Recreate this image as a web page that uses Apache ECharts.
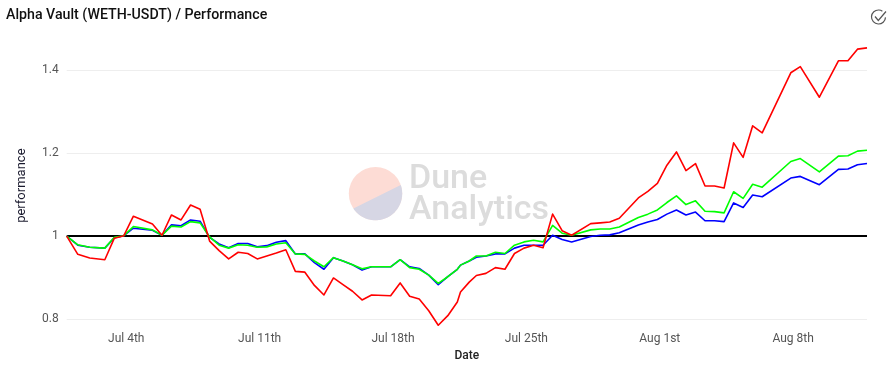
<!DOCTYPE html>
<html><head><meta charset="utf-8">
<style>html,body{margin:0;padding:0;background:#fff}#c{width:896px;height:370px}</style>
<script src="https://cdn.jsdelivr.net/npm/echarts@6/dist/echarts.min.js"></script>
</head><body><div id="c"></div>
<script>
const dates = ['06-30 21','07-01 11','07-02 02','07-02 21','07-03 09','07-03 21','07-04 09','07-05 09','07-05 21','07-06 09','07-06 21','07-07 09','07-07 21','07-08 09','07-08 21','07-09 09','07-09 21','07-10 09','07-10 21','07-11 09','07-11 21','07-12 09','07-12 21','07-13 09','07-13 21','07-14 09','07-14 21','07-15 09','07-15 21','07-16 09','07-16 21','07-17 21','07-18 09','07-18 21','07-19 09','07-19 21','07-20 09','07-20 21','07-21 09','07-21 13','07-22 00','07-22 09','07-22 21','07-23 09','07-23 21','07-24 09','07-24 21','07-25 09','07-25 21','07-26 09','07-26 21','07-27 09','07-28 09','07-28 21','07-29 09','07-29 21','07-30 21','07-31 09','07-31 21','08-01 09','08-01 21','08-02 09','08-02 21','08-03 09','08-03 21','08-04 09','08-04 21','08-05 09','08-05 21','08-06 09','08-07 21','08-08 09','08-09 09','08-10 09','08-10 21','08-11 09','08-11 21'];
const red = [1,.956,.947,.943,.995,1.001,1.048,1.029,1.002,1.051,1.039,1.075,1.065,.988,.965,.945,.961,.958,.945,.952,.959,.967,.915,.913,.881,.858,.899,.883,.867,.846,.858,.856,.887,.855,.848,.820,.785,.808,.841,.865,.889,.905,.910,.924,.920,.958,.971,.978,.972,1.053,1.013,1.002,1.030,1.032,1.034,1.043,1.092,1.108,1.127,1.171,1.203,1.158,1.175,1.121,1.121,1.116,1.225,1.190,1.266,1.249,1.394,1.409,1.335,1.423,1.423,1.451,1.454];
const blue = [1,.978,.973,.971,.996,1.001,1.019,1.014,1.002,1.027,1.025,1.039,1.036,.997,.981,.972,.982,.982,.974,.977,.985,.989,.957,.957,.936,.920,.948,.940,.931,.918,.926,.926,.943,.926,.922,.906,.883,.902,.920,.930,.940,.949,.952,.957,.957,.971,.978,.978,.978,1.002,.992,.986,.999,1.002,1.003,1.008,1.027,1.034,1.040,1.053,1.063,1.051,1.058,1.037,1.037,1.035,1.080,1.069,1.099,1.095,1.140,1.144,1.124,1.161,1.162,1.172,1.175];
const green = [1,.979,.973,.971,.997,1.001,1.023,1.015,1.002,1.024,1.022,1.035,1.032,.998,.978,.971,.979,.978,.973,.974,.981,.984,.957,.956,.940,.926,.948,.940,.931,.921,.926,.926,.943,.924,.920,.906,.886,.902,.920,.930,.940,.952,.952,.961,.958,.978,.986,.990,.986,1.026,1.007,1.002,1.015,1.017,1.017,1.022,1.045,1.053,1.063,1.081,1.097,1.076,1.085,1.060,1.059,1.056,1.107,1.091,1.125,1.118,1.180,1.187,1.155,1.193,1.194,1.205,1.207];
const base = dates.map(() => 1);
const tickDates = ['07-04 00','07-11 00','07-18 00','07-25 00','08-01 00','08-08 00'];
const tickLabels = ['Jul 4th','Jul 11th','Jul 18th','Jul 25th','Aug 1st','Aug 8th'];
const yTicks = [0.8,1,1.2,1.4];

const toTime = s => Date.parse('2021-' + s.replace(' ','T') + ':00:00Z');
const FONT = 'Roboto';
const pair = v => dates.map((d,i) => [toTime(d), v[i]]);
const line = (name,color,v,width) => ({name,type:'line',data:pair(v),showSymbol:false,symbol:'none',clip:false,
  lineStyle:{color,width,join:'round'},itemStyle:{color},animation:false,silent:true});

// lower segment of the watermark disc, as an outline polygon
const logoLow = [];
for (let deg = -19; deg <= 148; deg += 3) {
  logoLow.push([375.5 + 26.7 * Math.cos(deg * Math.PI / 180), 193.6 + 26.7 * Math.sin(deg * Math.PI / 180)]);
}

const chart = echarts.init(document.getElementById('c'),null,{renderer:'canvas'});
chart.setOption({
  animation:false,
  backgroundColor:'#fff',
  title:{text:'Alpha Vault (WETH-USDT) / Performance',left:1,top:3,
    textStyle:{fontFamily:FONT,fontSize:14.2,fontWeight:500,color:'#111'}},
  legend:{show:false},tooltip:{show:false},
  grid:{left:66.7,right:29,top:70.3,bottom:51,containLabel:false,outerBoundsMode:'none'},
  xAxis:{type:'value',min:toTime(dates[0]),max:toTime(dates[dates.length-1]),scale:true,
    name:'Date',nameLocation:'middle',nameGap:31,
    nameTextStyle:{fontFamily:FONT,fontSize:12,fontWeight:500,color:'#222'},
    axisLine:{show:false},axisTick:{show:false},splitLine:{show:false},
    axisLabel:{customValues:tickDates.map(toTime),margin:14,hideOverlap:false,
      fontFamily:FONT,fontSize:12,color:'#555',
      formatter:v=>tickLabels[tickDates.map(toTime).indexOf(v)]}},
  yAxis:{type:'value',min:yTicks[0],max:yTicks[yTicks.length-1],interval:0.2,
    name:'performance',nameLocation:'middle',nameGap:38,
    nameTextStyle:{fontFamily:FONT,fontSize:13,color:'#1a1a2e',padding:[0,0,0,18]},
    axisLine:{show:false},axisTick:{show:false},
    splitLine:{show:true,lineStyle:{color:'#eeeeee',width:1}},
    axisLabel:{margin:8,fontFamily:FONT,fontSize:12,color:'#555'}},
  graphic:[
    {type:'circle',z:-1,silent:true,shape:{cx:375.5,cy:193.6,r:26.7},style:{fill:'#fddcd5'}},
    {type:'polygon',z:-1,silent:true,shape:{points:logoLow},style:{fill:'#d6d6e4'}},
    {type:'text',z:-1,silent:true,style:{x:409,y:179,text:'Dune',fontFamily:FONT,fontWeight:500,fontSize:34,fill:'#dcdcdc',verticalAlign:'middle'}},
    {type:'text',z:-1,silent:true,style:{x:409,y:210,text:'Analytics',fontFamily:FONT,fontWeight:500,fontSize:34,fill:'#dcdcdc',verticalAlign:'middle'}},
    {type:'arc',silent:true,shape:{cx:878.5,cy:17,r:7,startAngle:0.05,endAngle:5.3,clockwise:true},style:{fill:'none',stroke:'#555',lineWidth:1.2}},
    {type:'polyline',silent:true,shape:{points:[[875,16.5],[878.3,20.5],[886,11.5]]},style:{fill:'none',stroke:'#555',lineWidth:1.2}}
  ],
  series:[line('baseline','#000000',base,2),line('blue','#0000ff',blue,1.6),line('green','#00ff00',green,1.6),line('red','#ff0000',red,1.6)]
});
</script></body></html>
